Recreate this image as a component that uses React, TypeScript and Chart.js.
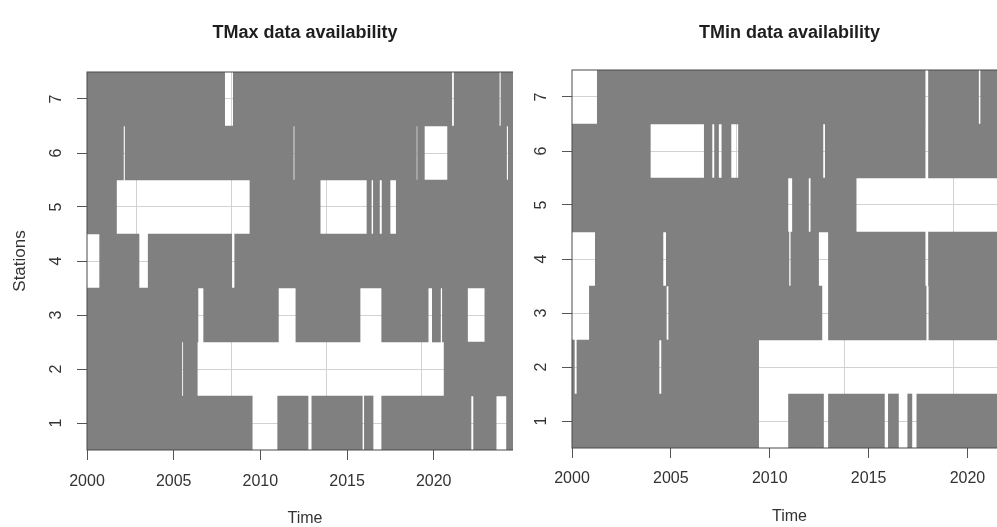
import React, { useEffect, useRef } from 'react';
import { Chart, registerables } from 'chart.js';

Chart.register(...registerables);
Chart.defaults.font.family = "'Liberation Sans', Arial, Helvetica, sans-serif";

// ---- data ----
const STATIONS = ['1', '2', '3', '4', '5', '6', '7'];
const X_TICKS = [2000, 2005, 2010, 2015, 2020];
// R grid() positions: days since 1970-01-01
const GRID_DAYS = [12000, 14000, 16000, 18000];
const TMAX_START = 2000;
const TMAX_END = 2025.15;
const TMIN_START = 2000;
const TMIN_END = 2022.0;

// TMax missing-data periods (station, from, to)
const TMAX_GAP_STATION = [1, 1, 1, 1, 1, 1, 2, 2, 3, 3, 3, 3, 3, 3, 4, 4, 4, 5, 5, 5, 5, 5, 6, 6, 6, 6, 6, 7, 7, 7];
const TMAX_GAP_FROM = [
  2009.53, 2012.75, 2015.88, 2016.5, 2022.15, 2023.6,
  2005.47, 2006.36,
  2006.4, 2011.04, 2015.75, 2019.68, 2020.39, 2021.95,
  2000.0, 2003.0, 2008.35,
  2001.7, 2013.45, 2016.4, 2016.87, 2017.48,
  2002.1, 2011.9, 2019.0, 2019.46, 2024.2,
  2007.94, 2021.04, 2023.78,
];
const TMAX_GAP_TO = [
  2011.0, 2012.97, 2016.0, 2017.0, 2022.3, 2024.2,
  2005.56, 2020.6,
  2006.73, 2012.05, 2017.0, 2019.92, 2020.5, 2022.95,
  2000.73, 2003.53, 2008.52,
  2009.4, 2016.15, 2016.52, 2017.02, 2017.84,
  2002.2, 2011.98, 2019.07, 2020.8, 2024.3,
  2008.44, 2021.18, 2023.88,
];

// TMin missing-data periods (station, from, to)
const TMIN_GAP_STATION = [1, 1, 1, 1, 1, 2, 2, 2, 3, 3, 3, 3, 4, 4, 4, 4, 4, 5, 5, 5, 6, 6, 6, 6, 6, 6, 7, 7, 7];
const TMIN_GAP_FROM = [
  2009.44, 2012.72, 2015.8, 2016.51, 2017.19,
  2000.12, 2004.4, 2009.44,
  2000.0, 2004.77, 2012.64, 2017.91,
  2000.0, 2004.6, 2010.97, 2012.47, 2017.86,
  2010.92, 2011.96, 2014.37,
  2003.96, 2007.08, 2007.41, 2008.04, 2012.69, 2017.86,
  2000.0, 2017.86, 2020.56,
];
const TMIN_GAP_TO = [
  2010.95, 2012.97, 2016.0, 2016.98, 2017.44,
  2000.25, 2004.53, 2022.0,
  2000.88, 2004.89, 2012.97, 2018.05,
  2001.18, 2004.77, 2011.07, 2012.97, 2018.03,
  2011.15, 2012.08, 2022.0,
  2006.69, 2007.21, 2007.58, 2008.42, 2012.81, 2018.03,
  2001.28, 2018.03, 2020.67,
];

// ---- styles ----
const BAR_COLOR = '#808080';
const GRID_COLOR = '#d2d2d2';
const TICK_COLOR = '#555555';
const TEXT_COLOR = '#333333';
const TITLE_COLOR = '#1e1e1e';
const TRANSPARENT = 'rgba(0,0,0,0)';

type Panel = {
  title: string;
  start: number;
  end: number;
  gapStation: number[];
  gapFrom: number[];
  gapTo: number[];
  showYTitle: boolean;
  yWidth: number;
  xHeight: number;
  titlePadTop: number;
  titlePadBottom: number;
  xTickPad: number;
  timePadBottom: number;
  canvasW: number;
  left: number;
  clipW: number;
};

const PANELS: Panel[] = [
  {
    title: 'TMax data availability',
    start: TMAX_START, end: TMAX_END,
    gapStation: TMAX_GAP_STATION, gapFrom: TMAX_GAP_FROM, gapTo: TMAX_GAP_TO,
    showYTitle: true, yWidth: 87, xHeight: 77,
    titlePadTop: 22, titlePadBottom: 28.4, xTickPad: 12.4, timePadBottom: 0,
    canvasW: 523, left: 0, clipW: 513,
  },
  {
    title: 'TMin data availability',
    start: TMIN_START, end: TMIN_END,
    gapStation: TMIN_GAP_STATION, gapFrom: TMIN_GAP_FROM, gapTo: TMIN_GAP_TO,
    showYTitle: false, yWidth: 59, xHeight: 79,
    titlePadTop: 22, titlePadBottom: 26.4, xTickPad: 11.4, timePadBottom: 2,
    canvasW: 494, left: 513, clipW: 484,
  },
];

// available periods = complement of the gaps within [start, end]
function availableSegments(p: Panel) {
  const out: { x: [number, number]; y: string }[] = [];
  STATIONS.forEach((label, si) => {
    const st = si + 1;
    const gaps: [number, number][] = [];
    p.gapStation.forEach((s, i) => {
      if (s === st) gaps.push([p.gapFrom[i], p.gapTo[i]]);
    });
    gaps.sort((a, b) => a[0] - b[0]);
    let cur = p.start;
    gaps.forEach(([a, b]) => {
      if (a > cur) out.push({ x: [cur, a], y: label });
      cur = Math.max(cur, b);
    });
    if (cur < p.end) out.push({ x: [cur, p.end], y: label });
  });
  return out;
}

const boxPlugin = {
  id: 'plotBox',
  afterDatasetsDraw(chart: any) {
    const { ctx, chartArea } = chart;
    ctx.save();
    ctx.strokeStyle = '#4a4a4a';
    ctx.lineWidth = 1;
    ctx.strokeRect(chartArea.left, chartArea.top, chartArea.right - chartArea.left, chartArea.bottom - chartArea.top);
    ctx.restore();
  },
};

function AvailabilityChart({ p }: { p: Panel }) {
  const ref = useRef<HTMLCanvasElement | null>(null);
  useEffect(() => {
    if (!ref.current) return;
    const gridYears = GRID_DAYS.map((d) => 1970 + d / 365.25);
    const isLabelTick = (v: number) => X_TICKS.includes(v);
    const chart = new Chart(ref.current, {
      type: 'bar',
      data: {
        datasets: [
          {
            data: availableSegments(p) as any,
            backgroundColor: BAR_COLOR,
            borderWidth: 0,
            barPercentage: 1,
            categoryPercentage: 1,
            grouped: false,
          } as any,
        ],
      },
      options: {
        indexAxis: 'y',
        responsive: false,
        animation: false,
        events: [],
        layout: { padding: 0 },
        plugins: {
          legend: { display: false },
          tooltip: { enabled: false },
          title: {
            display: true,
            text: p.title,
            fullSize: false,
            color: TITLE_COLOR,
            font: { size: 18, weight: 'bold', lineHeight: 1.2 },
            padding: { top: p.titlePadTop, bottom: p.titlePadBottom },
          },
        },
        scales: {
          x: {
            type: 'linear',
            min: p.start,
            max: p.end,
            afterBuildTicks: (scale: any) => {
              const vals = [...X_TICKS, ...gridYears].filter((v) => v >= p.start && v <= p.end).sort((a, b) => a - b);
              scale.ticks = vals.map((v) => ({ value: v }));
            },
            afterFit: (scale: any) => {
              scale.height = p.xHeight;
            },
            ticks: {
              autoSkip: false,
              minRotation: 0,
              maxRotation: 0,
              padding: p.xTickPad,
              color: TEXT_COLOR,
              font: { size: 16 },
              callback: (v: any) => (isLabelTick(Number(v)) ? String(v) : ''),
            },
            grid: {
              drawOnChartArea: true,
              drawTicks: true,
              tickLength: 10,
              color: (ctx: any) => (ctx.tick && isLabelTick(ctx.tick.value) ? TRANSPARENT : GRID_COLOR),
              tickColor: (ctx: any) => (ctx.tick && isLabelTick(ctx.tick.value) ? TICK_COLOR : TRANSPARENT),
              lineWidth: 1,
            },
            border: { display: false },
            title: {
              display: true,
              text: 'Time',
              color: TEXT_COLOR,
              font: { size: 16, lineHeight: 1 },
              padding: { top: 0, bottom: p.timePadBottom },
            },
          },
          y: {
            type: 'category',
            labels: STATIONS,
            reverse: true,
            offset: true,
            afterFit: (scale: any) => {
              scale.width = p.yWidth;
            },
            ticks: {
              autoSkip: false,
              minRotation: 90,
              maxRotation: 90,
              crossAlign: 'center',
              padding: 16,
              color: TEXT_COLOR,
              font: { size: 16 },
            },
            grid: {
              offset: false,
              drawOnChartArea: true,
              drawTicks: true,
              tickLength: 10,
              color: GRID_COLOR,
              tickColor: TICK_COLOR,
              lineWidth: 1,
            },
            border: { display: false },
            title: {
              display: p.showYTitle,
              text: 'Stations',
              color: TEXT_COLOR,
              font: { size: 17, lineHeight: 1.2 },
              padding: { top: 10, bottom: 0 },
            },
          },
        },
      } as any,
      plugins: [boxPlugin],
    });
    return () => chart.destroy();
  }, [p]);

  return (
    <div style={{ position: 'absolute', left: p.left, top: 0, width: p.clipW, height: 527, overflow: 'hidden' }}>
      <canvas ref={ref} width={p.canvasW} height={527} style={{ display: 'block', width: p.canvasW, height: 527 }} />
    </div>
  );
}

export default function App() {
  return (
    <div style={{ position: 'fixed', left: 0, top: 0, width: 997, height: 527, overflow: 'hidden', background: '#ffffff' }}>
      {PANELS.map((p) => (
        <AvailabilityChart key={p.title} p={p} />
      ))}
    </div>
  );
}
